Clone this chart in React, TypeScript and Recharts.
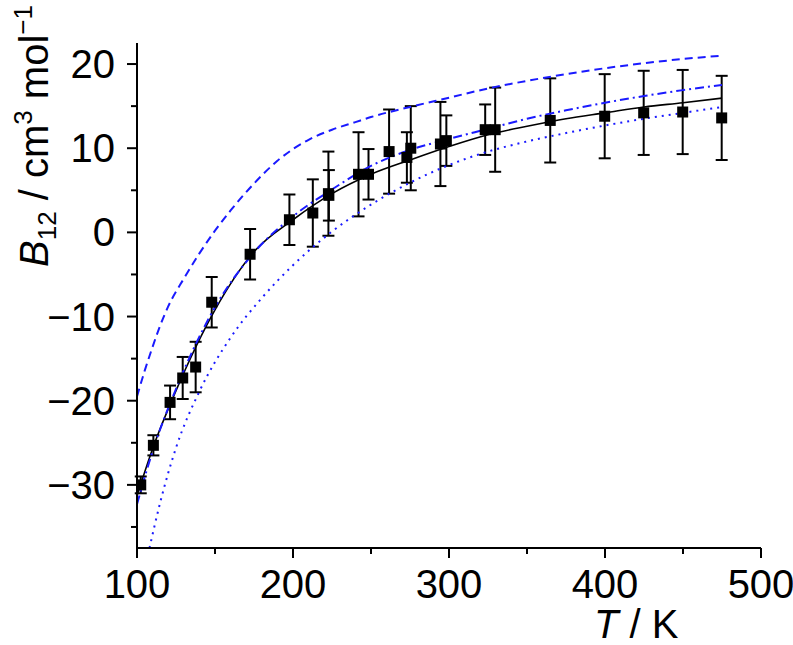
import { ComposedChart, Line, Scatter, ErrorBar, XAxis, YAxis } from 'recharts';

// measured points: temperature (K), B12 (cm3/mol), uncertainty
const tempK = [102.4, 110.5, 121.2, 129.3, 137.6, 147.9, 172.5, 197.7, 212.7, 222.7, 223.0, 242.0, 248.4, 261.6, 273.0, 275.5, 294.5, 298.3, 323.2, 329.6, 364.9, 399.8, 424.8, 449.8, 474.8];
const b12 = [-30.0, -25.3, -20.2, -17.3, -16.0, -8.3, -2.6, 1.5, 2.3, 4.6, 4.4, 6.9, 6.9, 9.6, 8.9, 10.0, 10.5, 10.9, 12.2, 12.2, 13.3, 13.8, 14.2, 14.3, 13.6];
const b12Err = [1.0, 1.2, 2.0, 2.5, 3.0, 3.0, 3.0, 3.0, 4.0, 5.0, 3.0, 5.0, 3.0, 5.0, 3.0, 5.0, 5.0, 3.0, 3.0, 5.0, 5.0, 5.0, 5.0, 5.0, 5.0];

// curves
const curveT = [100, 110, 125, 150, 175, 200, 225, 250, 275, 300, 325, 350, 375, 400, 425, 450, 475];
const fitB = [-31.3, -25.7, -18.8, -9.2, -2.3, 1.5, 4.6, 6.9, 8.6, 10.2, 11.6, 12.6, 13.5, 14.2, 14.9, 15.4, 15.95];
const dashDotB = [-32.3, -26.0, -18.6, -8.9, -2.4, 1.9, 5.1, 7.9, 9.8, 11.1, 12.3, 13.5, 14.5, 15.4, 16.2, 16.9, 17.5];

const dashedT = [100, 105, 110, 115, 120, 130, 140, 150, 160, 175, 190, 200, 210, 225, 240, 250, 275, 300, 325, 350, 375, 400, 425, 450, 475];
const dashedB = [-19.5, -16.4, -13.6, -11.0, -8.8, -5.5, -2.5, 0.2, 2.6, 5.8, 8.5, 9.9, 11.0, 12.2, 13.1, 13.7, 14.9, 16.0, 17.1, 18.0, 18.8, 19.5, 20.1, 20.6, 21.0];

const dottedT = [108, 115, 125, 140, 160, 180, 200, 225, 250, 275, 300, 325, 350, 375, 400, 425, 450, 475];
const dottedB = [-37.5, -32.0, -25.6, -18.9, -12.5, -7.8, -3.9, 0.1, 3.3, 5.9, 8.0, 9.6, 10.8, 11.8, 12.7, 13.5, 14.2, 14.9];

const xTicks = [100, 150, 200, 250, 300, 350, 400, 450, 500];
const yTicks = [-35, -30, -25, -20, -15, -10, -5, 0, 5, 10, 15, 20];

const points = tempK.map((T, i) => ({ T, B: b12[i], err: b12Err[i] }));
const fitLine = curveT.map((T, i) => ({ T, B: fitB[i] }));
const dashDotLine = curveT.map((T, i) => ({ T, B: dashDotB[i] }));
const dashedLine = dashedT.map((T, i) => ({ T, B: dashedB[i] }));
const dottedLine = dottedT.map((T, i) => ({ T, B: dottedB[i] }));

const FONT = '"Liberation Sans", Arial, sans-serif';
const BLUE = '#1a1aff';

const fmt = (v: number) => String(v).replace('-', '\u2212');

function XTick({ x, y, payload }: any) {
  const major = payload.value % 100 === 0;
  return (
    <g>
      <line x1={x} x2={x} y1={y} y2={y + (major ? 10 : 6)} stroke="#000" strokeWidth={2} />
      {major && (
        <text x={x} y={y + 50} textAnchor="middle" fontSize={40} fontFamily={FONT} fill="#000">
          {fmt(payload.value)}
        </text>
      )}
    </g>
  );
}

function YTick({ x, y, payload }: any) {
  const major = payload.value % 10 === 0;
  return (
    <g>
      <line x1={x - (major ? 10 : 6)} x2={x} y1={y} y2={y} stroke="#000" strokeWidth={2} />
      {major && (
        <text x={x - 22} y={y + 14} textAnchor="end" fontSize={40} fontFamily={FONT} fill="#000">
          {fmt(payload.value)}
        </text>
      )}
    </g>
  );
}

function XTitle({ viewBox }: any) {
  const x = viewBox.x + viewBox.width * 0.8;
  const y = viewBox.y + 90;
  return (
    <text x={x} y={y} textAnchor="middle" fontSize={40} fontFamily={FONT} fill="#000">
      <tspan fontStyle="italic">T</tspan> / K
    </text>
  );
}

function YTitle({ viewBox }: any) {
  const cx = viewBox.x + viewBox.width - 89;
  const cy = 267;
  return (
    <text transform={`rotate(-90 ${cx} ${cy})`} x={cx} y={cy} fontSize={40} fontFamily={FONT} fill="#000">
      <tspan fontStyle="italic">B</tspan>
      <tspan fontSize={26} dy={8}>12</tspan>
      <tspan dy={-8}> / cm</tspan>
      <tspan fontSize={26} dy={-16}>3</tspan>
      <tspan dy={16}> mol</tspan>
      <tspan fontSize={26} dy={-16}>{'\u22121'}</tspan>
    </text>
  );
}

const Square = ({ cx, cy }: any) => <rect x={cx - 5.5} y={cy - 5.5} width={11} height={11} fill="#000" />;

export default function App() {
  return (
    <div style={{ position: 'absolute', left: 0, top: 0, background: '#fff' }}>
      <ComposedChart width={793} height={645} margin={{ top: 43, right: 32, bottom: 37, left: 77 }}>
        <XAxis
          type="number"
          dataKey="T"
          domain={[100, 500]}
          ticks={xTicks}
          interval={0}
          allowDataOverflow
          height={60}
          stroke="#000"
          strokeWidth={2}
          tickLine={false}
          tickSize={0}
          tickMargin={0}
          tick={<XTick />}
          label={<XTitle />}
        />
        <YAxis
          type="number"
          domain={[-37.5, 22.5]}
          ticks={yTicks}
          interval={0}
          allowDataOverflow
          width={60}
          stroke="#000"
          strokeWidth={2}
          tickLine={false}
          tickSize={0}
          tickMargin={0}
          tick={<YTick />}
          label={<YTitle />}
        />
        <Scatter data={points} dataKey="B" shape={<Square />} isAnimationActive={false}>
          <ErrorBar dataKey="err" direction="y" width={6} stroke="#000" strokeWidth={2} isAnimationActive={false} />
        </Scatter>
        <Line data={fitLine} dataKey="B" type="monotone" stroke="#000" strokeWidth={1.6} dot={false} activeDot={false} isAnimationActive={false} />
        <Line data={dashDotLine} dataKey="B" type="monotone" stroke={BLUE} strokeWidth={2} strokeDasharray="9 4 2 4" dot={false} activeDot={false} isAnimationActive={false} />
        <Line data={dashedLine} dataKey="B" type="monotone" stroke={BLUE} strokeWidth={2} strokeDasharray="8 5" dot={false} activeDot={false} isAnimationActive={false} />
        <Line data={dottedLine} dataKey="B" type="monotone" stroke={BLUE} strokeWidth={2} strokeDasharray="2 5" dot={false} activeDot={false} isAnimationActive={false} />
      </ComposedChart>
    </div>
  );
}
